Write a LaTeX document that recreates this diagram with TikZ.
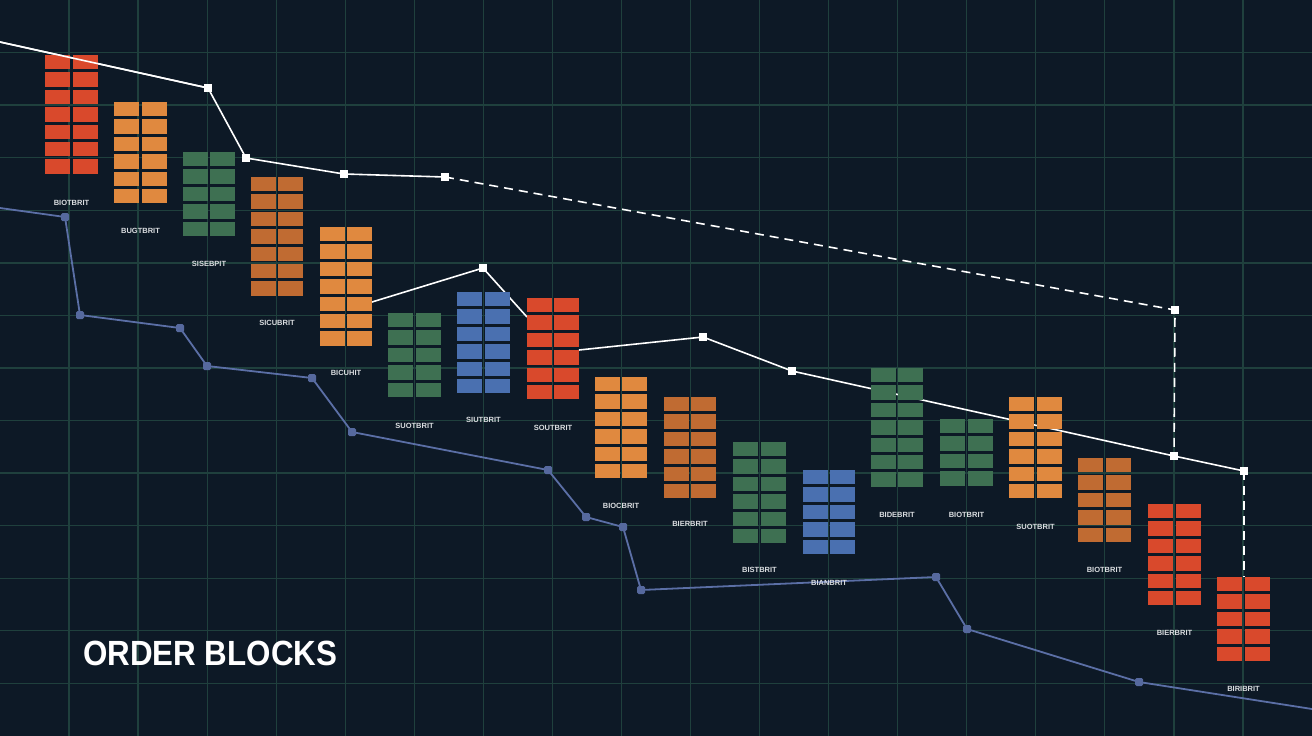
\documentclass[tikz,border=0pt]{standalone}
\usepackage{fontspec}
\setmainfont{Liberation Sans}
\definecolor{bg}{HTML}{0D1926}
\definecolor{gridc}{HTML}{1F403D}
\definecolor{obred}{HTML}{D9492C}
\definecolor{oblor}{HTML}{E0893F}
\definecolor{obdor}{HTML}{C06B32}
\definecolor{obgrn}{HTML}{3E7052}
\definecolor{obblu}{HTML}{4A70B0}
\definecolor{lineblue}{HTML}{5B6FA6}
\definecolor{markblue}{HTML}{56699E}
\definecolor{lblgray}{HTML}{DADDE0}
\newcommand\obk[7]{% name, cx, top, rows, color, label, label y
  \foreach \r in {1,...,#4}{
    \pgfmathsetmacro\yy{#3+(\r-1)*17.4}
    \path[fill=#5] (#2-26.3,\yy) rectangle ++(25.2,14.4);
    \path[fill=#5] (#2+1.1,\yy) rectangle ++(25.2,14.4);
  }
  \node[lbl] (#1) at (#2,#7) {#6};
}
\tikzset{
  gridline/.style={gridc, line width=1.3pt},
  wline/.style={white, line width=1.6pt, line join=round},
  wdash/.style={white, line width=1.6pt, dash pattern=on 9pt off 6pt},
  bline/.style={lineblue, line width=1.8pt, line join=round},
  wmark/.style={fill=white, minimum size=7.5pt, inner sep=0pt, outer sep=0pt},
  bmark/.style={fill=markblue, minimum size=8pt, inner sep=0pt, outer sep=0pt, rounded corners=1.5pt},
  lbl/.style={text=lblgray, font=\fontsize{7.5}{8}\selectfont\bfseries, inner sep=0pt},
}
\begin{document}
\begin{tikzpicture}[x=1pt, y=-1pt]
\useasboundingbox (0,0) rectangle (1312,736);
\fill[bg] (0,0) rectangle (1312,736);
% grid
\foreach \k in {1,...,18} \draw[gridline] ({69.05*\k},0) -- ({69.05*\k},736);
\foreach \k in {1,...,13} \draw[gridline] (0,{52.57*\k}) -- (1312,{52.57*\k});
% white line coordinates
\coordinate (w0) at (0,42);
\coordinate (w1) at (208,88);
\coordinate (w2) at (246,158);
\coordinate (w3) at (344,174);
\coordinate (w4) at (445,177);
\coordinate (w5) at (1175,310);
\coordinate (w6) at (1174,456);
\coordinate (w7) at (1244,471);
\coordinate (wend) at (1244,577);
\coordinate (s0) at (372,302);
\coordinate (w8) at (483,268);
\coordinate (s1) at (527,317);
\coordinate (s3) at (579,350);
\coordinate (w9) at (703,337);
\coordinate (w10) at (792,371);
% blue line coordinates
\coordinate (b0) at (0,208);
\coordinate (b1) at (65,217);
\coordinate (b2) at (80,315);
\coordinate (b3) at (180,328);
\coordinate (b4) at (207,366);
\coordinate (b5) at (312,378);
\coordinate (b6) at (352,432);
\coordinate (b7) at (548,470);
\coordinate (b8) at (586,517);
\coordinate (b9) at (623,527);
\coordinate (b10) at (641,590);
\coordinate (b11) at (936,577);
\coordinate (b12) at (967,629);
\coordinate (b13) at (1139,682);
\coordinate (b14) at (1312,709);
% lines
\draw[bline] (b0) -- (b1) -- (b2) -- (b3) -- (b4) -- (b5) -- (b6) -- (b7) -- (b8) -- (b9) -- (b10) -- (b11) -- (b12) -- (b13) -- (b14);
\draw[wline] (w0) -- (w1) -- (w2) -- (w3) -- (w4);
\draw[wdash] (w4) -- (w5) -- (w6);
\draw[wline] (s0) -- (w8) -- (s1);
\draw[wline] (s3) -- (w9) -- (w10) -- (w6) -- (w7);
\draw[wdash] (w7) -- (wend);
% blocks
\obk{l1}{71.5}{55}{7}{obred}{BIOTBRIT}{203}
\obk{l2}{140.5}{102}{6}{oblor}{BUGTBRIT}{231}
\obk{l3}{209}{152}{5}{obgrn}{SISEBPIT}{264}
\obk{l4}{277}{177}{7}{obdor}{SICUBRIT}{323}
\obk{l5}{346}{227}{7}{oblor}{BICUHIT}{373}
\obk{l6}{414.5}{313}{5}{obgrn}{SUOTBRIT}{426}
\obk{l7}{483.5}{292}{6}{obblu}{SIUTBRIT}{420}
\obk{l8}{553}{298}{6}{obred}{SOUTBRIT}{428}
\obk{l9}{621}{377}{6}{oblor}{BIOCBRIT}{506}
\obk{l10}{690}{397}{6}{obdor}{BIERBRIT}{524}
\obk{l11}{759.5}{442}{6}{obgrn}{BISTBRIT}{570}
\obk{l12}{829}{470}{5}{obblu}{BIANBRIT}{583}
\obk{l13}{897}{368}{7}{obgrn}{BIDEBRIT}{515}
\obk{l14}{966.5}{419}{4}{obgrn}{BIOTBRIT}{515}
\obk{l15}{1035.5}{397}{6}{oblor}{SUOTBRIT}{527}
\obk{l16}{1104.5}{458}{5}{obdor}{BIOTBRIT}{570}
\obk{l17}{1174.5}{504}{6}{obred}{BIERBRIT}{633}
\obk{l18}{1243.5}{577}{5}{obred}{BIRIBRIT}{689}
% first white segment passes over block 1
\draw[wline] (w0) -- (w1);
% markers
\foreach \c/\n in {w1/m1,w2/m2,w3/m3,w4/m4,w5/m5,w6/m6,w7/m7,w8/m8,w9/m9,w10/m10}
  \node[wmark] (\n) at (\c) {};
\foreach \c/\n in {b1/n1,b2/n2,b3/n3,b4/n4,b5/n5,b6/n6,b7/n7,b8/n8,b9/n9,b10/n10,b11/n11,b12/n12,b13/n13}
  \node[bmark] (\n) at (\c) {};
% title
\node[anchor=base west, inner sep=0pt, text=white, font=\fontsize{35}{35}\selectfont\bfseries, xscale=0.895] (title) at (83,665) {ORDER BLOCKS};
\end{tikzpicture}
\end{document}
